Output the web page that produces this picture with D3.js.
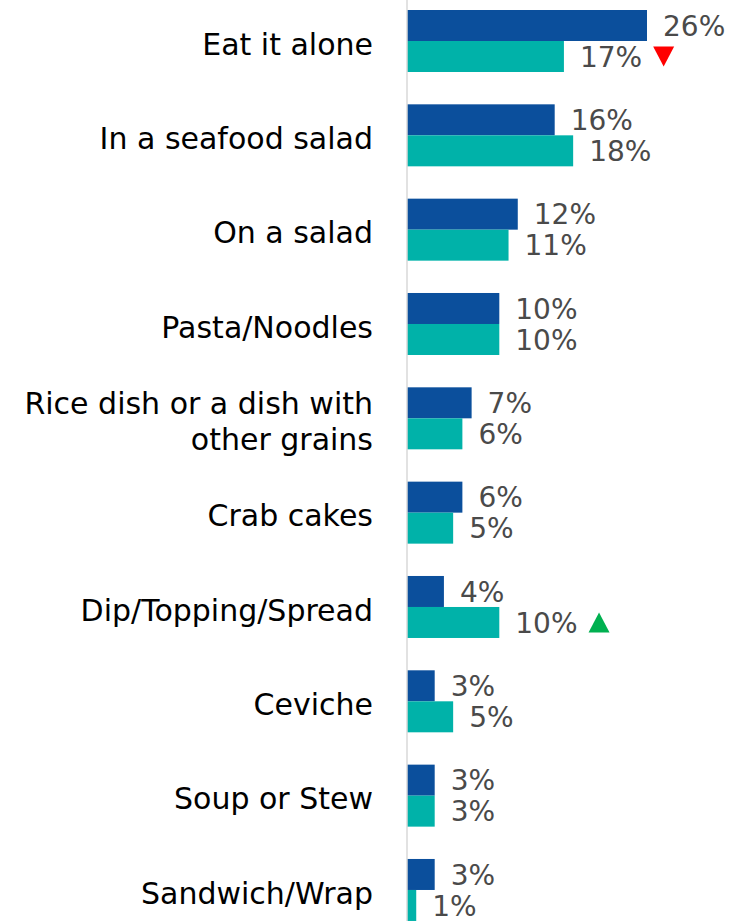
<!DOCTYPE html>
<html>
<head>
<meta charset="utf-8">
<script src="https://cdn.jsdelivr.net/npm/d3@7"></script>
<style>
  html, body { margin: 0; padding: 0; background: #ffffff; }
  svg { display: block; }
</style>
</head>
<body>
<svg id="chart" width="731" height="921"></svg>
<script>
// Ways of eating seafood: two survey waves, shares in percent
const categories = [
  "Eat it alone",
  "In a seafood salad",
  "On a salad",
  "Pasta/Noodles",
  "Rice dish or a dish with other grains",
  "Crab cakes",
  "Dip/Topping/Spread",
  "Ceviche",
  "Soup or Stew",
  "Sandwich/Wrap"
];
const seriesNames = ["Previous", "Current"];
const previousValues = [26, 16, 12, 10, 7, 6, 4, 3, 3, 3];
const currentValues  = [17, 18, 11, 10, 6, 5, 10, 5, 3, 1];
// significant change markers on the current wave: -1 down, +1 up, 0 none
const changeFlags    = [-1, 0, 0, 0, 0, 0, 1, 0, 0, 0];
// label line breaks for long categories
const labelLines = {
  "Rice dish or a dish with other grains": ["Rice dish or a dish with", "other grains"]
};

const colors = { Previous: "#0b4f9c", Current: "#00b2a9" };

const W = 731, H = 921;
const axisX = 407;
const svg = d3.select("#chart");

const rows = categories.map((c, i) => ({
  category: c,
  values: [
    { series: "Previous", value: previousValues[i] },
    { series: "Current", value: currentValues[i], flag: changeFlags[i] }
  ]
}));

const x = d3.scaleLinear().domain([0, 26]).range([axisX, axisX + 240]);

const step = 94.33;
const pad = 1 - 62 / step;
const y = d3.scaleBand()
  .domain(categories)
  .range([10 - step * pad / 2, 10 - step * pad / 2 + step * categories.length])
  .paddingInner(pad)
  .paddingOuter(pad / 2);

const ySub = d3.scaleBand().domain(seriesNames).range([0, y.bandwidth()]);

const font = "'DejaVu Sans', sans-serif";

// bars
const groups = svg.append("g").selectAll("g")
  .data(rows)
  .join("g")
  .attr("transform", d => `translate(0,${y(d.category)})`);

groups.selectAll("rect")
  .data(d => d.values)
  .join("rect")
  .attr("x", x(0))
  .attr("y", d => ySub(d.series))
  .attr("width", d => x(d.value) - x(0))
  .attr("height", ySub.bandwidth())
  .attr("fill", d => colors[d.series]);

// value labels and change markers
groups.each(function(d) {
  const g = d3.select(this);
  d.values.forEach(v => {
    const cy = ySub(v.series) + ySub.bandwidth() / 2;
    const t = g.append("text")
      .attr("x", x(v.value) + 16)
      .attr("y", cy)
      .attr("dy", "0.36em")
      .attr("font-family", font)
      .attr("font-size", 28)
      .attr("fill", "#4a4a4a")
      .text(v.value + "%");
    if (v.flag) {
      const tx = x(v.value) + 16 + t.node().getComputedTextLength() + 11;
      const s = 21, h = 20;
      const pts = v.flag < 0
        ? [[tx, cy - h / 2], [tx + s, cy - h / 2], [tx + s / 2, cy + h / 2]]
        : [[tx, cy + h / 2], [tx + s, cy + h / 2], [tx + s / 2, cy - h / 2]];
      g.append("path")
        .attr("d", d3.line()(pts) + "Z")
        .attr("fill", v.flag < 0 ? "#ff0000" : "#00b050");
    }
  });
});

// category axis line
svg.append("line")
  .attr("x1", axisX).attr("x2", axisX)
  .attr("y1", 0).attr("y2", H)
  .attr("stroke", "#d9d9d9")
  .attr("stroke-width", 1.5);

// category labels
const labels = svg.append("g").selectAll("text")
  .data(categories)
  .join("text")
  .attr("text-anchor", "end")
  .attr("font-family", font)
  .attr("font-size", 30)
  .attr("fill", "#000000");

labels.each(function(c) {
  const lines = labelLines[c] || [c];
  const cy = y(c) + y.bandwidth() / 2 + 3;
  const lh = 36.5;
  const t = d3.select(this);
  lines.forEach((ln, i) => {
    t.append("tspan")
      .attr("x", 373)
      .attr("y", cy + (i - (lines.length - 1) / 2) * lh)
      .attr("dy", "0.36em")
      .text(ln);
  });
});
</script>
</body>
</html>
